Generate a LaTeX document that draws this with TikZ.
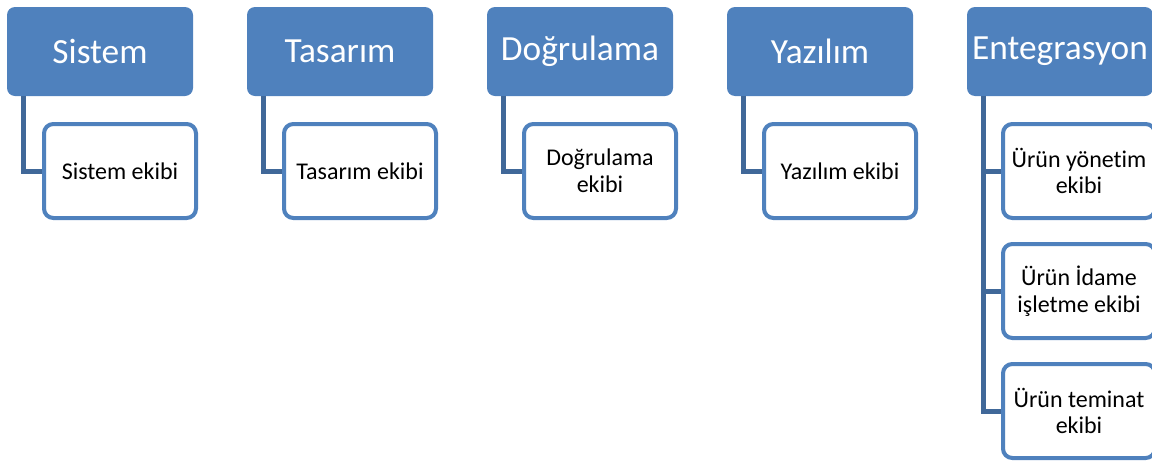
\documentclass[tikz,border=0pt]{standalone}
\usepackage{fontspec}
\setmainfont{Carlito}[RawFeature=-liga]
\usepackage{tikz}
\usetikzlibrary{calc,positioning}
\definecolor{hdrblue}{RGB}{79,129,189}
\definecolor{linkblue}{RGB}{64,104,153}

\begin{document}
\begin{tikzpicture}[x=0.75pt,y=-0.75pt,
    hdr/.style={draw=none,fill=hdrblue,rounded corners=6pt,minimum width=139.5pt,minimum height=66.75pt,
      text=white,font=\fontsize{26.5}{30}\selectfont,inner sep=0pt},
    team/.style={draw=hdrblue,line width=3pt,fill=white,rounded corners=7pt,minimum width=114pt,minimum height=70.5pt,
      align=center,font=\fontsize{18}{20}\selectfont,inner sep=0pt},
    link/.style={draw=linkblue,line width=3.75pt}]
  \useasboundingbox (0,0) rectangle (1152,461);
  % first four columns: one team each
  \foreach \i/\t/\s in {0/Sistem/Sistem ekibi,1/Tasarım/Tasarım ekibi,2/Doğrulama/{Doğrulama\\ekibi},3/Yazılım/Yazılım ekibi} {
    \node[hdr] (h\i) at (100+240*\i,51.5) {\t};
    \node[team] (c\i) at (120+240*\i,171) {\s};
    \draw[link] ($(h\i.south west)+(17,0)$) |- (c\i.west);
  }
  % last column
  \node[hdr] (h4) at (1060,51.5) {Entegrasyon};
  \node[team] (e1) at (1079,171) {Ürün yönetim\\ekibi};
  \node[team] (e2) at (1079,291) {Ürün İdame\\işletme ekibi};
  \node[team] (e3) at (1079,411) {Ürün teminat\\ekibi};
  \draw[link] ($(h4.south west)+(17,0)$) |- (e3.west);
  \foreach \k in {1,2} \draw[link] ($(h4.south west)+(17,0)$) |- (e\k.west);
\end{tikzpicture}
\end{document}
